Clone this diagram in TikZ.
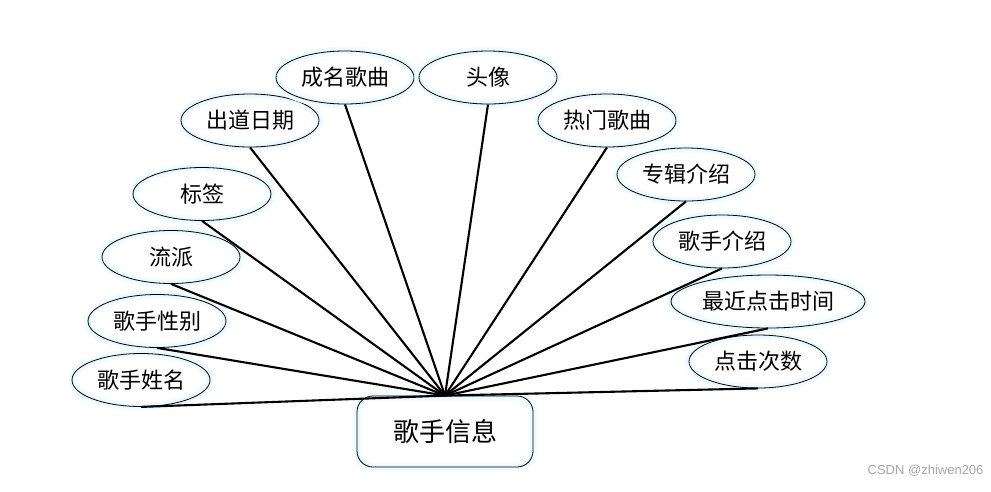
\documentclass[tikz,border=0pt]{standalone}
\usepackage{fontspec}
\newfontfamily\cjk{Noto Sans CJK SC}
\setsansfont{Liberation Sans}
\usetikzlibrary{shapes.geometric}
\begin{document}
\begin{tikzpicture}[x=1pt,y=-1pt,
  glow/.style={preaction={draw=cyan!4,line width=9pt},preaction={draw=cyan!8,line width=5pt}},
  attr/.style={ellipse,draw=black,line width=0.8pt,minimum width=138pt,minimum height=53pt,inner sep=0pt,
     font=\cjk\fontsize{22}{22}\selectfont,glow},
  entity/.style={rectangle,rounded corners=16pt,draw=black,line width=0.8pt,minimum width=176pt,minimum height=71pt,inner sep=0pt,
     font=\cjk\fontsize{26}{26}\selectfont,glow},
  link/.style={line width=2.1pt,black}]
\useasboundingbox (0,0) rectangle (991,491);
\node[entity] (c) at (445,431.5) {歌手信息};
\node[attr] (a1) at (141,380) {歌手姓名};
\node[attr] (a2) at (157,321) {歌手性别};
\node[attr] (a3) at (171,257) {流派};
\node[attr] (a4) at (202,194) {标签};
\node[attr] (a5) at (250,120.5) {出道日期};
\node[attr] (a6) at (345,77.5) {成名歌曲};
\node[attr] (a7) at (488,77.5) {头像};
\node[attr] (a8) at (607,120.5) {热门歌曲};
\node[attr] (a9) at (686,174.5) {专辑介绍};
\node[attr] (a10) at (722,241.5) {歌手介绍};
\node[attr,minimum width=194pt] (a11) at (768,301.5) {最近点击时间};
\node[attr] (a12) at (758,361.5) {点击次数};
\foreach \i in {1,...,12} {\draw[link] (a\i.south) -- (c.north);}
\node[font=\sffamily\fontsize{13}{13}\selectfont,text=gray!70,anchor=east] (wm) at (987,471) {CSDN @zhiwen206};
\end{tikzpicture}
\end{document}
